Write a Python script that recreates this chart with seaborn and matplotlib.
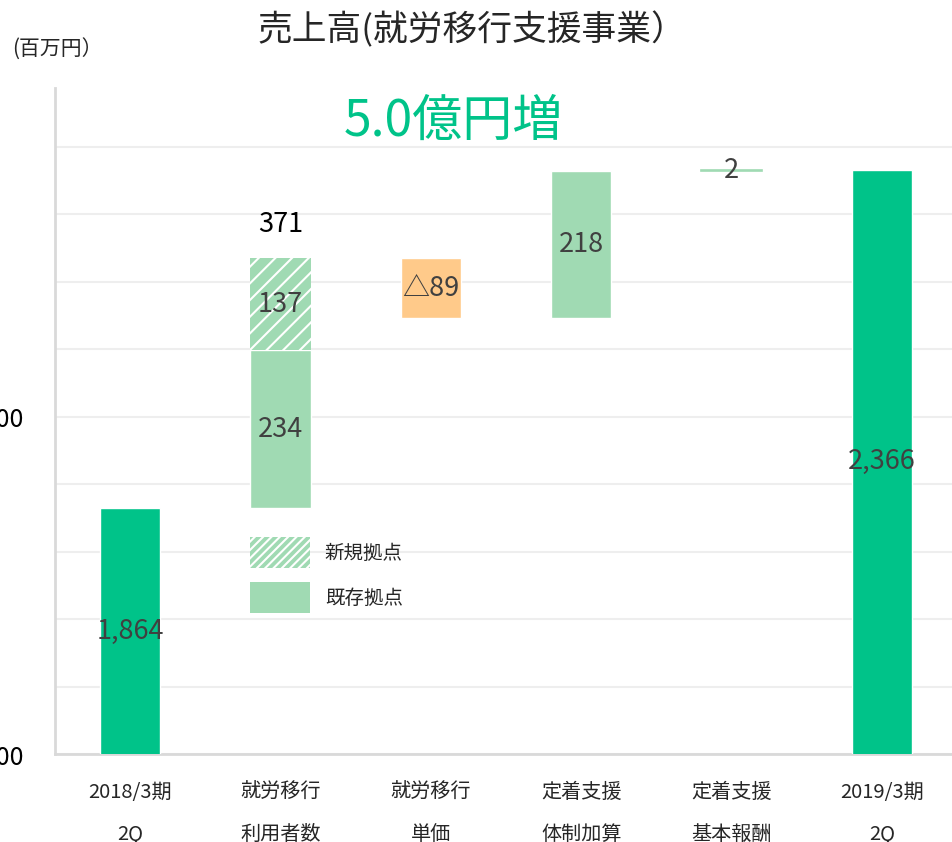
import matplotlib
matplotlib.use("Agg")
import matplotlib.pyplot as plt
from matplotlib.patches import Patch
from matplotlib.ticker import MultipleLocator, FuncFormatter
import seaborn as sns

# data (百万円)
categories = ["2018/3期\n2Q", "就労移行\n利用者数", "就労移行\n単価",
              "定着支援\n体制加算", "定着支援\n基本報酬", "2019/3期\n2Q"]
start_total = 1864
end_total = 2366
existing_sites = 234
new_sites = 137
unit_price = -89
retention_add = 218
retention_base = 2
legend_labels = ["新規拠点", "既存拠点"]

dark_green = "#00C389"
light_green = "#A0DAB3"
orange = "#FFCA8A"
label_col = "#404040"

sns.set_style("white")
plt.rcParams["font.family"] = ["Noto Sans CJK JP", "DejaVu Sans"]
plt.rcParams["hatch.linewidth"] = 1.5

fig = plt.figure(figsize=(9.52, 8.42), dpi=100)
ax = fig.add_axes([55 / 952, 88 / 842, 902 / 952, 666 / 842])

totals = [start_total, 0, 0, 0, 0, end_total]
sns.barplot(x=categories, y=totals, color=dark_green, saturation=1,
            width=0.4, ax=ax, zorder=3)

# floating steps
lvl1 = start_total + existing_sites
lvl2 = lvl1 + new_sites
lvl3 = lvl2 + unit_price
lvl4 = lvl3 + retention_add
ax.bar(1, existing_sites, bottom=start_total, width=0.4, color=light_green, zorder=3)
ax.bar(1, new_sites, bottom=lvl1, width=0.4, color=light_green,
       hatch="//", edgecolor="white", linewidth=0, zorder=3)
ax.bar(2, -unit_price, bottom=lvl3, width=0.4, color=orange, zorder=3)
ax.bar(3, retention_add, bottom=lvl3, width=0.4, color=light_green, zorder=3)
ax.bar(4, retention_base, bottom=lvl4, width=0.4, color=light_green,
       edgecolor=light_green, linewidth=1.2, zorder=3)

# value labels
fs = 19.5
ax.text(0, (1500 + start_total) / 2, f"{start_total:,}", ha="center", va="center", fontsize=fs, color=label_col, zorder=5)
ax.text(5, (1500 + end_total) / 2, f"{end_total:,}", ha="center", va="center", fontsize=fs, color=label_col, zorder=5)
ax.text(1, start_total + existing_sites / 2, f"{existing_sites}", ha="center", va="center", fontsize=fs, color=label_col, zorder=5)
ax.text(1, lvl1 + new_sites / 2, f"{new_sites}", ha="center", va="center", fontsize=fs, color=label_col, zorder=5)
ax.text(1, lvl2 + 50, f"{existing_sites + new_sites}", ha="center", va="center", fontsize=fs, color="black", zorder=5)
ax.text(2, lvl3 - unit_price / 2, f"△{-unit_price}", ha="center", va="center", fontsize=fs, color=label_col, zorder=5)
ax.text(3, lvl3 + retention_add / 2, f"{retention_add}", ha="center", va="center", fontsize=fs, color=label_col, zorder=5)
ax.text(4, lvl4, f"{retention_base}", ha="center", va="center", fontsize=fs, color=label_col, zorder=5)

# axes
ax.set_xlim(-0.5, 5.5)
ax.set_ylim(1500, 2487)
ax.yaxis.set_major_locator(MultipleLocator(100))
ax.yaxis.set_major_formatter(FuncFormatter(lambda v, p: f"{int(v):,}" if int(round(v)) % 500 == 0 else ""))
ax.grid(axis="y", color="#EEEEEE", linewidth=1.5, zorder=0)
ax.set_axisbelow(True)
ax.tick_params(axis="y", length=0, pad=22, labelsize=18, labelcolor="black")
ax.tick_params(axis="x", length=0, pad=20, labelsize=14.5)
for lab in ax.get_xticklabels():
    lab.set_linespacing(2.3)
for side in ["top", "right"]:
    ax.spines[side].set_visible(False)
ax.spines["left"].set_color("#D9D9D9")
ax.spines["left"].set_linewidth(2)
ax.spines["bottom"].set_color("#D9D9D9")
ax.spines["bottom"].set_linewidth(2)
ax.set_xlabel("")
ax.set_ylabel("")

# legend
handles = [Patch(facecolor=light_green, hatch="////", edgecolor="white", linewidth=0),
           Patch(facecolor=light_green, linewidth=0)]
fig.legend(handles, legend_labels, loc="upper left", bbox_to_anchor=(250 / 952, 1 - 537 / 842),
           frameon=False, fontsize=14, handlelength=3.1, handleheight=2.05,
           handletextpad=0.75, labelspacing=0.75, borderpad=0, borderaxespad=0)

fig.text(257 / 952, 1 - 30 / 842, "売上高(就労移行支援事業）", ha="left", va="center", fontsize=25)
fig.text(12 / 952, 1 - 50 / 842, "(百万円）", ha="left", va="center", fontsize=15)
fig.text(453 / 952, 1 - 122 / 842, "5.0億円増", ha="center", va="center", fontsize=36, color=dark_green)

fig.savefig("out.png", dpi=100)
